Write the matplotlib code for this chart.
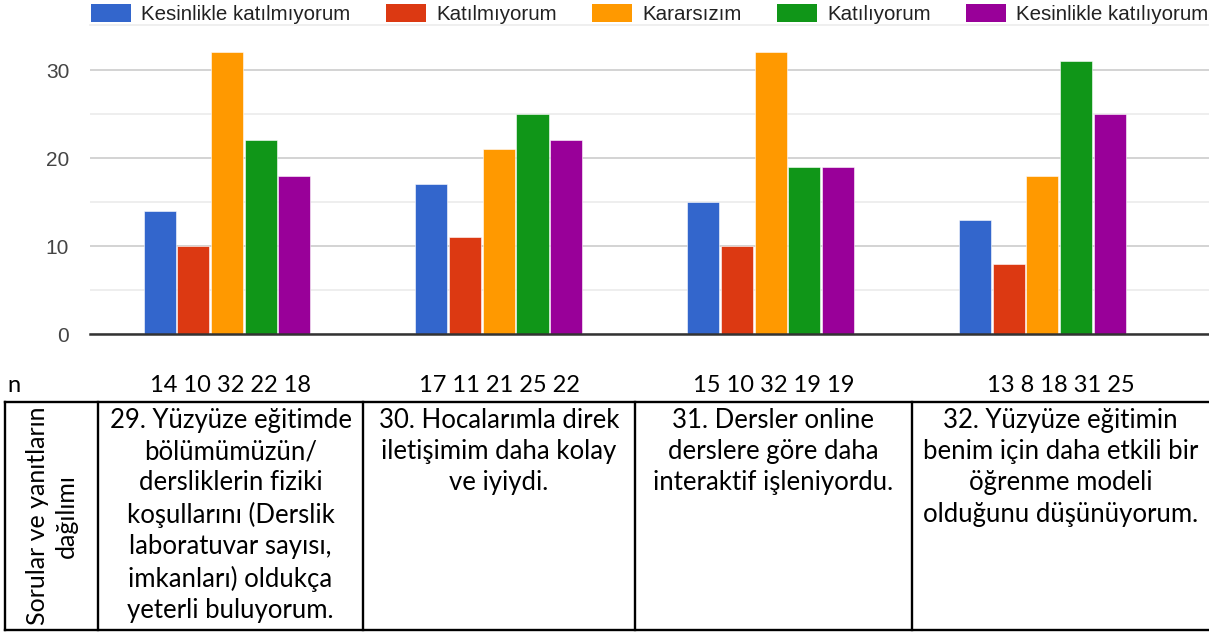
import matplotlib
matplotlib.use("Agg")
import matplotlib.pyplot as plt
import numpy as np
from matplotlib.patches import Patch
from matplotlib.lines import Line2D

# answer categories and counts per question
answers = ["Kesinlikle katılmıyorum", "Katılmıyorum", "Kararsızım",
           "Katılıyorum", "Kesinlikle katılıyorum"]
colors = ["#3366cc", "#dc3912", "#ff9900", "#109618", "#990099"]

strongly_disagree = [14, 17, 15, 13]
disagree = [10, 11, 10, 8]
undecided = [32, 21, 32, 18]
agree = [22, 25, 19, 31]
strongly_agree = [18, 22, 19, 25]
series = [strongly_disagree, disagree, undecided, agree, strongly_agree]

questions = [
    "29. Yüzyüze eğitimde\nbölümümüzün/\ndersliklerin fiziki\nkoşullarını (Derslik\nlaboratuvar sayısı,\nimkanları) oldukça\nyeterli buluyorum.",
    "30. Hocalarımla direk\niletişimim daha kolay\nve iyiydi.",
    "31. Dersler online\nderslere göre daha\ninteraktif işleniyordu.",
    "32. Yüzyüze eğitimin\nbenim için daha etkili bir\nöğrenme modeli\nolduğunu düşünüyorum.",
]
yticks = [0, 10, 20, 30]

W, H = 1209, 634
fig = plt.figure(figsize=(W / 100, H / 100), dpi=100)

def fx(px):
    return px / W

def fy(py):
    return 1 - py / H

# chart area
ax = fig.add_axes([fx(90), fy(334), fx(1209) - fx(90), (334 - 34.8) / H])
x = np.arange(len(questions))
pitch = 0.124
width = 0.118
for j, (vals, c) in enumerate(zip(series, colors)):
    ax.bar(x + (j - 2) * pitch, vals, width, color=c, zorder=3,
           edgecolor="white", linewidth=0.4)

ax.set_xlim(-0.504, 3.613)
ax.set_ylim(0, 34)
ax.set_yticks(yticks)
ax.set_yticks([5, 15, 25], minor=True)
ax.set_yticklabels([str(t) for t in yticks], fontsize=15, color="#444444",
                   family="Liberation Sans")
ax.tick_params(axis="y", which="both", length=0, pad=15)
ax.set_xticks([])
ax.grid(axis="y", which="major", color="#cccccc", linewidth=1.2, zorder=0)
ax.grid(axis="y", which="minor", color="#ebebeb", linewidth=1.2, zorder=0)
for s in ["top", "right", "left"]:
    ax.spines[s].set_visible(False)
ax.spines["bottom"].set_color("#333333")
ax.spines["bottom"].set_linewidth(1.8)
ax.spines["bottom"].set_zorder(4)

handles = [Patch(facecolor=c, edgecolor="none") for c in colors]
fig.legend(handles, answers, loc="center left", bbox_to_anchor=(fx(91), fy(14)),
           ncol=5, frameon=False, prop={"family": "Liberation Sans", "size": 14.8},
           handlelength=1.95, handleheight=0.98, handletextpad=0.49,
           columnspacing=1.72, labelcolor="#222222", borderpad=0,
           borderaxespad=0)
fig.add_artist(Line2D([fx(90), 1], [fy(25)] * 2, color="#ececec", lw=1.2))

# table below the chart
col_edges = [5, 98, 363, 635, 912, 1209]
table_top, table_bot = 402, 630
lw = 1.7
fig.add_artist(Line2D([fx(5), 1], [fy(table_top)] * 2, color="black", lw=lw))
fig.add_artist(Line2D([fx(5), 1], [fy(table_bot)] * 2, color="black", lw=lw))
for e in col_edges[:-1]:
    fig.add_artist(Line2D([fx(e)] * 2, [fy(table_top), fy(table_bot)],
                          color="black", lw=lw))

tfont = "Lato"
fig.text(fx(14), fy(386), "n", fontsize=17, family=tfont, ha="center", va="center")
for i, q in enumerate(questions):
    cx = (col_edges[i + 1] + col_edges[i + 2]) / 2
    nlabel = " ".join(str(s[i]) for s in series)
    fig.text(fx(cx), fy(386), nlabel, fontsize=17, family=tfont,
             ha="center", va="center")
    fig.text(fx(cx), fy(408), q, fontsize=18.5, family=tfont, ha="center",
             va="top", linespacing=1.31)

fig.text(fx(52), fy(516), "Sorular ve yanıtların\ndağılımı", fontsize=18,
         family=tfont, rotation=90, ha="center", va="center",
         multialignment="center", linespacing=1.3)

fig.savefig("out.png", dpi=100)
